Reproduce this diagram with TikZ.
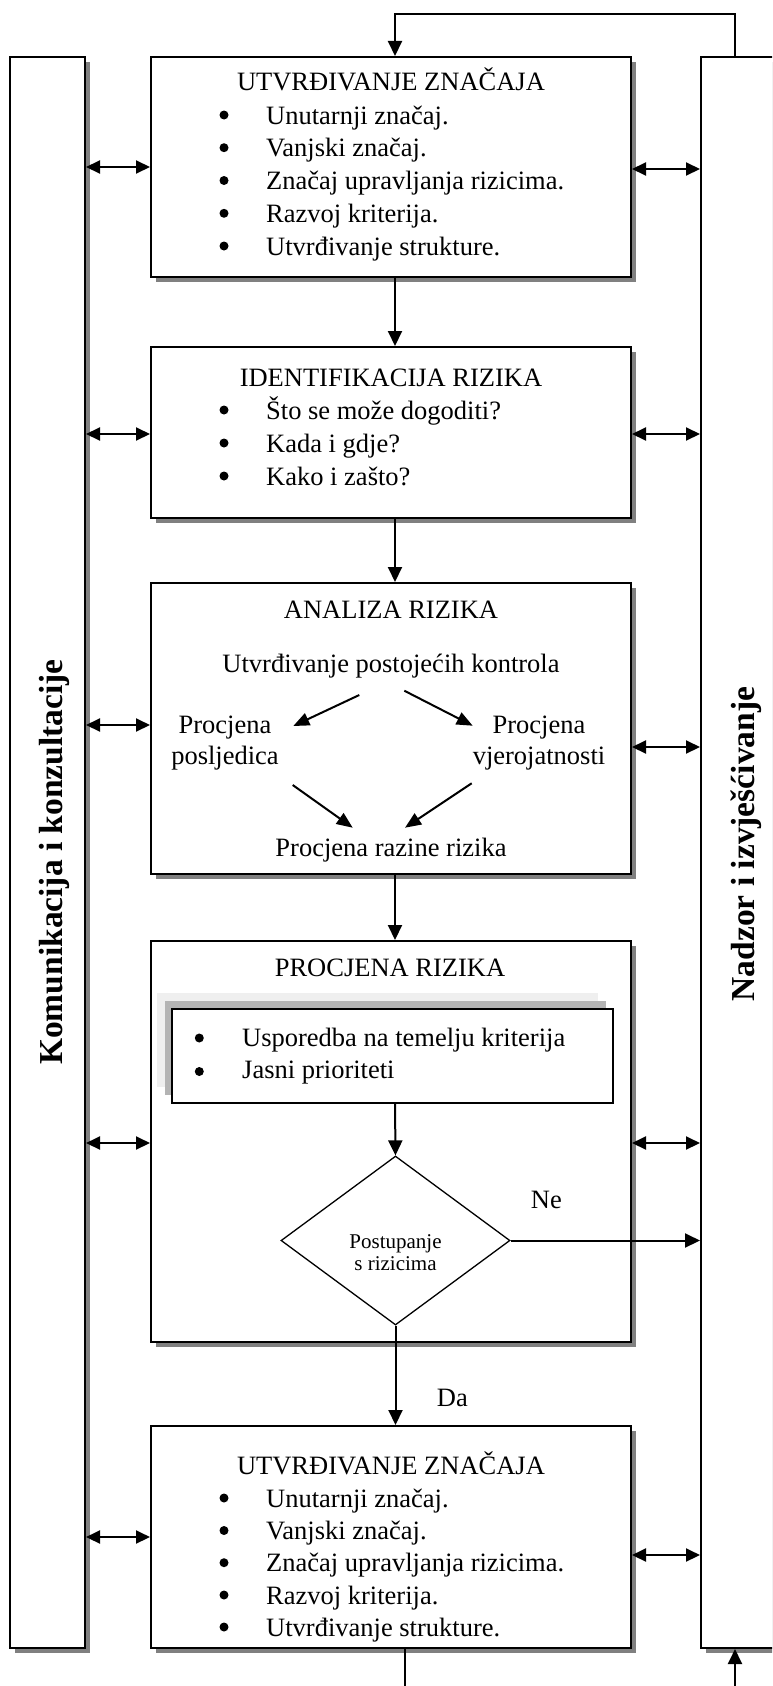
\documentclass[tikz,border=0pt]{standalone}
\usepackage{fontspec}
\setmainfont{Liberation Serif}
\usetikzlibrary{arrows.meta,shapes.geometric,shadows}
\definecolor{shd}{HTML}{808080}
\definecolor{shdA}{HTML}{EFEFEF}
\definecolor{shdB}{HTML}{B4B4B4}
\newcommand\bodyfs{\fontsize{26.5}{32.8}\selectfont}
\newcommand\smallfs{\fontsize{21}{22.5}\selectfont}
\newcommand\sidefs{\fontsize{33.5}{36}\selectfont\bfseries}
\begin{document}
\begin{tikzpicture}[x=1pt,y=-1pt,
  box/.style={draw, line width=2pt, fill=white, inner sep=0pt, rectangle,
    general shadow={fill=shd, shadow xshift=5pt, shadow yshift=-5pt}},
  txt/.style={inner sep=0pt, font=\bodyfs},
  dot/.style={circle, fill=black, inner sep=0pt, minimum size=9pt},
  arr/.style={line width=2pt, -{Triangle[length=15pt,width=14pt]}},
  sarr/.style={line width=2pt, -{Triangle[length=16pt,width=13pt]}},
  biarr/.style={line width=2pt, {Triangle[length=14pt,width=13pt]}-{Triangle[length=14pt,width=13pt]}},
  plain/.style={line width=2pt}]
\useasboundingbox (0,0) rectangle (772,1686);
\fill[white] (0,0) rectangle (772,1686);
\clip (0,0) rectangle (772,1686);

% side columns
\node[box, minimum width=75pt, minimum height=1591pt] (lc) at (47.5,852.5) {};
\node[box, minimum width=75pt, minimum height=1591pt] (rc) at (738.5,852.5) {};
\node[rotate=90, font=\sidefs, inner sep=0pt] (lct) at (54,862) {Komunikacija i konzultacije};
\node[rotate=90, font=\sidefs, inner sep=0pt] (rct) at (746,844) {Nadzor i izvješćivanje};

% helper coordinates
\coordinate (ax) at (395,0);
\coordinate (fb) at (735,0);
\coordinate (bx) at (405,0);
\coordinate (pb) at (0,1686);

% box 1
\node[box, minimum width=480pt, minimum height=220pt] (b1) at (391,167) {};
\node[txt, anchor=base] (b1t) at (391,90.7) {UTVRĐIVANJE ZNAČAJA};
\foreach \yy/\line [count=\i] in {124/Unutarnji značaj.,156.7/Vanjski značaj.,189.5/Značaj upravljanja rizicima.,222.3/Razvoj kriterija.,255/Utvrđivanje strukture.}{
  \node[dot] (b1d\i) at (224,\yy-9) {};
  \node[txt, anchor=base west] (b1i\i) at (266,\yy) {\line};
}

% box 2
\node[box, minimum width=480pt, minimum height=171pt] (b2) at (391,432.5) {};
\node[txt, anchor=base] (b2t) at (391,386) {IDENTIFIKACIJA RIZIKA};
\foreach \yy/\line [count=\i] in {419/Što se može dogoditi?,452/Kada i gdje?,485/Kako i zašto?}{
  \node[dot] (b2d\i) at (224,\yy-9) {};
  \node[txt, anchor=base west] (b2i\i) at (266,\yy) {\line};
}

% box 3
\node[box, minimum width=480pt, minimum height=291pt] (b3) at (391,728.5) {};
\node[txt, anchor=base] (b3t) at (391,618.3) {ANALIZA RIZIKA};
\node[txt, anchor=base] (b3u) at (391,672.7) {Utvrđivanje postojećih kontrola};
\node[txt, anchor=base] (b3l1) at (225,733.3) {Procjena};
\node[txt, anchor=base] (b3l2) at (225,764.3) {posljedica};
\node[txt, anchor=base] (b3r1) at (539,733.3) {Procjena};
\node[txt, anchor=base] (b3r2) at (539,764.3) {vjerojatnosti};
\node[txt, anchor=base] (b3p) at (391,856.7) {Procjena razine rizika};
\coordinate (a1s) at (359.3,695);   \coordinate (a1e) at (293.3,726);
\coordinate (a2s) at (404.3,690.7); \coordinate (a2e) at (472.7,725.7);
\coordinate (a3s) at (292.7,785);   \coordinate (a3e) at (352.7,827.7);
\coordinate (a4s) at (471.7,783.3); \coordinate (a4e) at (405,827.7);
\draw[sarr] (a1s) -- (a1e);
\draw[sarr] (a2s) -- (a2e);
\draw[sarr] (a3s) -- (a3e);
\draw[sarr] (a4s) -- (a4e);

% box 4
\node[box, minimum width=480pt, minimum height=401pt] (b4) at (391,1141.5) {};
\node[txt, anchor=base] (b4t) at (390,976) {PROCJENA RIZIKA};
\node[draw, line width=1.6pt, fill=white, inner sep=0pt, minimum width=441pt, minimum height=94pt,
  general shadow={fill=shdA, shadow xshift=-15pt, shadow yshift=16pt},
  general shadow={fill=shdB, shadow xshift=-7pt, shadow yshift=8pt}] (ib) at (392.5,1056) {};
\node[dot] (ibd1) at (199.3,1038) {};
\node[txt, anchor=base west] (ibi1) at (242,1046) {Usporedba na temelju kriterija};
\node[dot] (ibd2) at (199.3,1071.5) {};
\node[txt, anchor=base west] (ibi2) at (242,1078) {Jasni prioriteti};
\node[draw, diamond, line width=1.3pt, fill=white, inner sep=0pt, minimum width=229pt, minimum height=169pt] (dia) at (395.5,1240.5) {};
\node[inner sep=0pt, font=\smallfs, anchor=base] (dt1) at (395.5,1248.3) {Postupanje};
\node[inner sep=0pt, font=\smallfs, anchor=base] (dt2) at (395.5,1270.7) {s rizicima};
\node[txt, anchor=base west] (ne) at (530.7,1208) {Ne};
\node[txt, anchor=base west] (da) at (436.7,1406) {Da};

% box 5
\node[box, minimum width=480pt, minimum height=222pt] (b5) at (391,1537) {};
\node[txt, anchor=base] (b5t) at (391,1474.5) {UTVRĐIVANJE ZNAČAJA};
\foreach \yy/\line [count=\i] in {1507/Unutarnji značaj.,1539.5/Vanjski značaj.,1571.7/Značaj upravljanja rizicima.,1604/Razvoj kriterija.,1636/Utvrđivanje strukture.}{
  \node[dot] (b5d\i) at (224,\yy-9) {};
  \node[txt, anchor=base west] (b5i\i) at (266,\yy) {\line};
}

% main flow
\draw[arr] (b1.south -| ax) -- (b2.north -| ax);
\draw[arr] (b2.south -| ax) -- (b3.north -| ax);
\draw[arr] (b3.south -| ax) -- (b4.north -| ax);
\draw[arr] (ib.south -| ax) -- (dia.north);
\draw[arr] (dia.south) -- (b5.north -| dia.south);
\draw[arr] (dia.east) -- (dia.east -| rc.west);
\draw[arr] (rc.north -| fb) -- ++(0,-42) -| (b1.north -| ax);
\draw[plain] (b5.south -| bx) -- (pb -| bx);
\draw[arr] (pb -| fb) -- (rc.south -| fb);

% double arrows to side columns
\foreach \yl/\yr/\b in {167/169/b1,434/434/b2,725/747/b3,1143/1143/b4,1537/1555/b5}{
  \coordinate (yl) at (0,\yl);
  \coordinate (yr) at (0,\yr);
  \draw[biarr] (lc.east |- yl) -- (\b.west |- yl);
  \draw[biarr] (\b.east |- yr) -- (rc.west |- yr);
}
\end{tikzpicture}
\end{document}
